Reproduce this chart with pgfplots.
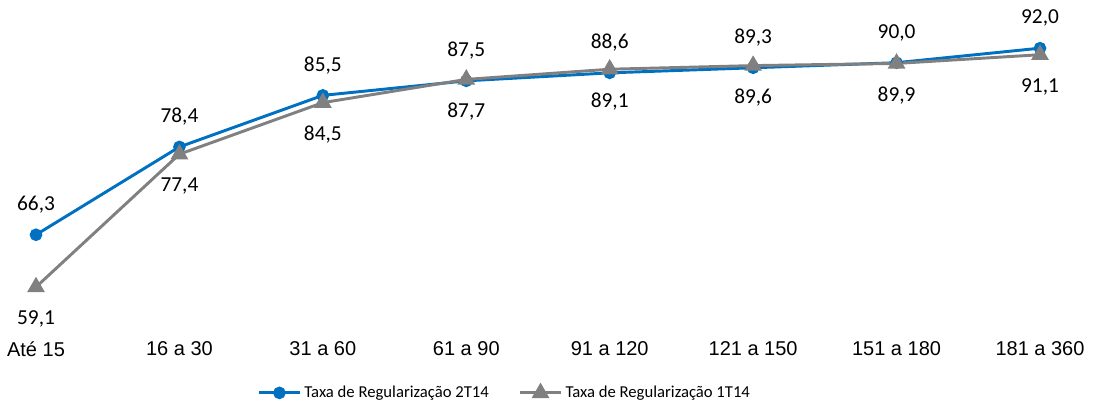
\documentclass[border=0pt]{standalone}
\usepackage{pgfplots}
\pgfplotsset{compat=1.18}
\usepackage{fontspec}
\setmainfont{Liberation Sans}
\newfontfamily\carlito{Carlito}
\definecolor{cblue}{HTML}{0070C0}
\definecolor{cgray}{HTML}{808080}
\begin{document}
\begin{tikzpicture}
\begin{axis}[
  at={(27pt,64.65pt)}, anchor=south west,
  scale only axis, width=753pt, height=217.8pt,
  xmin=0, xmax=7, ymin=55, ymax=95,
  clip=false,
  axis line style={draw=none},
  major tick length=0pt,
  ytick=\empty,
  xtick={0,...,7},
  xticklabels={Até 15,16 a 30,31 a 60,61 a 90,91 a 120,121 a 150,151 a 180,181 a 360},
  xticklabel style={font=\fontsize{15}{15}\selectfont, anchor=center, yshift=-24pt},
  /pgf/number format/assume math mode=true,
  nodes near coords={\pgfmathprintnumber[fixed,fixed zerofill,precision=1,use comma]{\pgfplotspointmeta}},
  legend columns=2,
  legend style={draw=none, fill=none, font=\fontsize{12.5}{12.5}\selectfont\carlito,
    at={(0.467,-0.262)}, anchor=center,
    /tikz/every even column/.append style={column sep=20pt}},
  legend image code/.code={\draw[mark repeat=2,mark phase=2] plot coordinates {(0cm,0cm)(0.55cm,0cm)(1.1cm,0cm)};},
]
\addplot[cblue, line width=2.2pt, mark=*, mark size=3.6pt,
  every node near coord/.append style={font=\fontsize{16}{16}\selectfont\carlito, text=black, anchor=center, yshift=22.5pt}]
  coordinates {(0,66.3)(1,78.4)(2,85.5)(3,87.5)(4,88.6)(5,89.3)(6,90.0)(7,92.0)};
\addlegendentry{Taxa de Regularização 2T14}
\addplot[cgray, line width=2.2pt, mark=triangle*, mark size=5.5pt,
  every node near coord/.append style={font=\fontsize{16}{16}\selectfont\carlito, text=black, anchor=center, yshift=-24pt}]
  coordinates {(0,59.1)(1,77.4)(2,84.5)(3,87.7)(4,89.1)(5,89.6)(6,89.9)(7,91.1)};
\addlegendentry{Taxa de Regularização 1T14}
\end{axis}
\pgfresetboundingbox
\path[use as bounding box] (0,0) rectangle (819.75pt,302.25pt);
\end{tikzpicture}
\end{document}
